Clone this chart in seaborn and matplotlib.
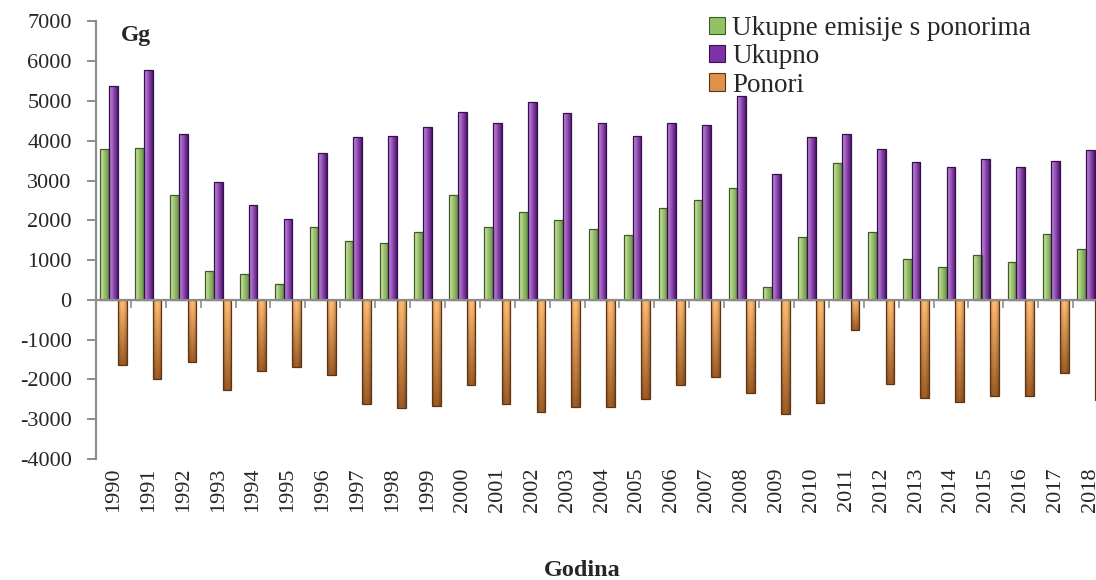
import matplotlib
matplotlib.use("Agg")
import matplotlib.pyplot as plt
import numpy as np
import pandas as pd
import seaborn as sns
from matplotlib.patches import Patch

# Data (Gg)
years = list(range(1990, 2019))
ukupne_s_ponorima = [3790, 3830, 2640, 730, 640, 390, 1830, 1480, 1420, 1710,
                     2640, 1820, 2200, 2020, 1770, 1640, 2320, 2510, 2820, 320,
                     1580, 3440, 1700, 1030, 830, 1130, 960, 1650, 1290]
ukupno = [5380, 5770, 4170, 2970, 2380, 2030, 3680, 4100, 4120, 4350,
          4720, 4440, 4980, 4700, 4440, 4130, 4440, 4400, 5120, 3160,
          4100, 4160, 3800, 3470, 3330, 3530, 3350, 3480, 3760]
ponori = [-1630, -1980, -1570, -2270, -1790, -1680, -1880, -2630, -2720, -2660,
          -2130, -2630, -2830, -2690, -2700, -2500, -2150, -1930, -2330, -2880,
          -2580, -760, -2120, -2470, -2570, -2410, -2410, -1840, -2510]
series_names = ["Ukupne emisije s ponorima", "Ukupno", "Ponori"]

df = pd.DataFrame({
    "Godina": [str(y) for y in years],
    series_names[0]: ukupne_s_ponorima,
    series_names[1]: ukupno,
    series_names[2]: ponori,
})
long_df = df.melt(id_vars="Godina", var_name="serija", value_name="Gg")

# colours
face = {"Ukupne emisije s ponorima": "#93c266", "Ukupno": "#7d32a8", "Ponori": "#e0914a"}
edge = {"Ukupne emisije s ponorima": "#3f5c24", "Ukupno": "#35104a", "Ponori": "#5e3412"}
# gradient ends (light, dark); green/purple run left->right, orange top->bottom
grad = {
    "Ukupne emisije s ponorima": ((0.82, 0.92, 0.66), (0.40, 0.58, 0.24), "h"),
    "Ukupno": ((0.80, 0.55, 0.92), (0.33, 0.08, 0.46), "h"),
    "Ponori": ((0.97, 0.71, 0.43), (0.60, 0.35, 0.14), "v"),
}

sns.set_theme(style="white")
plt.rcParams["font.family"] = ["Liberation Serif", "DejaVu Serif"]
plt.rcParams["axes.unicode_minus"] = False

fig = plt.figure(figsize=(10.96, 5.8), dpi=100)
ax = fig.add_axes([96 / 1096, 121 / 580, 1012 / 1096, 437.6 / 580])

sns.barplot(data=long_df, x="Godina", y="Gg", hue="serija", hue_order=series_names,
            palette=face, width=0.75, errorbar=None, legend=False, ax=ax)


def gradient_img(c1, c2, mode, n=32):
    t = np.linspace(0, 1, n)
    c1 = np.array(c1)
    c2 = np.array(c2)
    cols = c1[None, :] * (1 - t[:, None]) + c2[None, :] * t[:, None]
    if mode == "h":
        return cols[None, :, :]
    shade = np.array([0.85, 1.0, 1.05, 1.0, 0.85])
    img = cols[:, None, :] * shade[None, :, None]
    return np.clip(img, 0, 1)


# glossy look: gradient image clipped to every bar
for name, cont in zip(series_names, ax.containers):
    c1, c2, mode = grad[name]
    img = gradient_img(c1, c2, mode)
    for rect in cont:
        x0, y0 = rect.get_x(), rect.get_y()
        w, h = rect.get_width(), rect.get_height()
        lo, hi = min(y0, y0 + h), max(y0, y0 + h)
        im = ax.imshow(img, extent=(x0, x0 + w, lo, hi), origin="upper",
                       aspect="auto", interpolation="bilinear", zorder=2)
        im.set_clip_path(rect)
        rect.set_facecolor("none")
        rect.set_edgecolor(edge[name])
        rect.set_linewidth(0.9)
        rect.set_zorder(3)

ax.set_xlim(-0.5, len(years) - 0.5)
ax.set_ylim(-4000, 7000)

# axes styling
for s in ["top", "right"]:
    ax.spines[s].set_visible(False)
for s in ["left", "bottom"]:
    ax.spines[s].set_color("#8c8c8c")
    ax.spines[s].set_linewidth(1.6)
ax.spines["bottom"].set_position(("data", 0))
ax.spines["bottom"].set_zorder(4)

ax.set_yticks(range(-4000, 7001, 1000))
ax.tick_params(axis="y", direction="out", length=6.5, width=1.4, color="#8c8c8c",
               pad=11, labelsize=16, left=True)
ax.set_xticks(np.arange(0.5, len(years)), labels=[""] * len(years))
ax.tick_params(axis="x", direction="out", length=5.5, width=1.2, color="#8c8c8c",
               bottom=True, labelbottom=False)
ax.set_xlabel("")
ax.set_ylabel("")

# year labels at the bottom of the axes
sec = ax.secondary_xaxis(0.0)
sec.set_xticks(range(len(years)), labels=[str(y) for y in years], rotation=90)
sec.tick_params(length=0, pad=6, labelsize=16)
sec.spines["bottom"].set_visible(False)

fig.text(121 / 1096, 1 - 41 / 580, "Gg", fontsize=17, fontweight="bold", va="baseline")
fig.text(582 / 1096, 1 - 576 / 580, "Godina", fontsize=17.5, fontweight="bold",
         ha="center", va="baseline")

handles = [Patch(facecolor=face[n], edgecolor=edge[n], linewidth=0.8) for n in series_names]
fig.legend(handles, series_names, loc="upper left", bbox_to_anchor=(709 / 1096, 1 - 16 / 580),
           frameon=False, fontsize=19.5, handlelength=0.6, handleheight=0.6,
           handletextpad=0.25, labelspacing=0.12, borderpad=0, borderaxespad=0)

fig.savefig("out.png", dpi=100)
